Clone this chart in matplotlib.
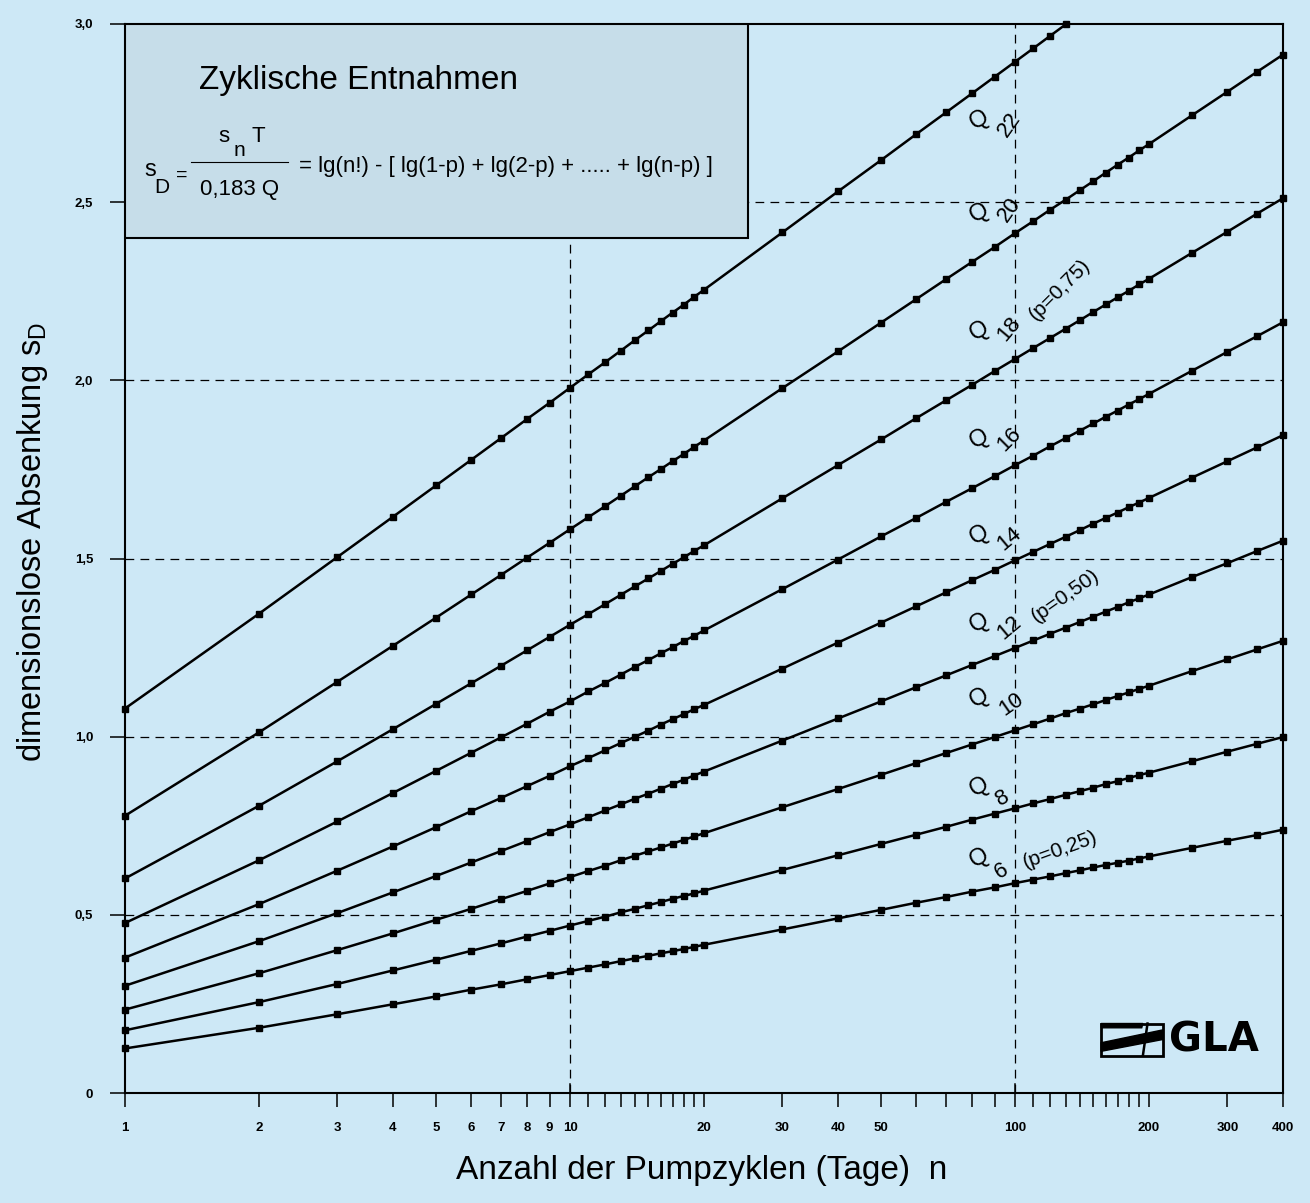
import matplotlib
matplotlib.use("Agg")
import matplotlib.pyplot as plt
from matplotlib.patches import Rectangle, Polygon
from matplotlib.ticker import FixedLocator, FixedFormatter, NullFormatter

plt.rcParams['font.family'] = ['Liberation Sans', 'DejaVu Sans']

# Pumpzyklen n (Tage) mit Messpunkten
n_days = list(range(1, 21)) + [30, 40, 50, 60, 70, 80, 90, 100,
                               110, 120, 130, 140, 150, 160, 170, 180, 190, 200,
                               250, 300, 350, 400]
n_days_q22 = n_days[:31]   # Q22 endet bei n=130 am oberen Rand

# dimensionslose Absenkung sD je Kurve
s_q6 = [0.125, 0.183, 0.221, 0.249, 0.271, 0.290, 0.305, 0.319, 0.331, 0.342,
        0.352, 0.361, 0.370, 0.378, 0.385, 0.392, 0.398, 0.404, 0.410, 0.416,
        0.459, 0.490, 0.514, 0.534, 0.550, 0.565, 0.577, 0.589,
        0.599, 0.608, 0.617, 0.625, 0.633, 0.640, 0.646, 0.652, 0.658, 0.664,
        0.688, 0.708, 0.724, 0.739]
s_q8 = [0.176, 0.255, 0.306, 0.344, 0.374, 0.399, 0.420, 0.439, 0.455, 0.470,
        0.483, 0.495, 0.507, 0.517, 0.527, 0.536, 0.545, 0.553, 0.560, 0.568,
        0.626, 0.667, 0.699, 0.725, 0.747, 0.767, 0.784, 0.799,
        0.813, 0.825, 0.837, 0.847, 0.857, 0.867, 0.875, 0.884, 0.892, 0.899,
        0.931, 0.958, 0.980, 0.999]
s_q10 = [0.234, 0.336, 0.401, 0.448, 0.486, 0.517, 0.544, 0.567, 0.588, 0.606,
         0.623, 0.638, 0.653, 0.666, 0.678, 0.689, 0.700, 0.710, 0.720, 0.729,
         0.802, 0.853, 0.893, 0.926, 0.954, 0.978, 0.999, 1.018,
         1.035, 1.051, 1.066, 1.079, 1.091, 1.103, 1.114, 1.124, 1.134, 1.143,
         1.184, 1.217, 1.245, 1.269]
s_q12 = [0.301, 0.426, 0.505, 0.563, 0.609, 0.647, 0.679, 0.707, 0.732, 0.754,
         0.774, 0.793, 0.810, 0.826, 0.840, 0.854, 0.867, 0.879, 0.891, 0.902,
         0.989, 1.051, 1.099, 1.139, 1.172, 1.201, 1.226, 1.249,
         1.270, 1.289, 1.306, 1.322, 1.337, 1.351, 1.364, 1.377, 1.388, 1.399,
         1.448, 1.487, 1.521, 1.550]
s_q14 = [0.380, 0.530, 0.624, 0.692, 0.746, 0.791, 0.828, 0.861, 0.890, 0.917,
         0.940, 0.962, 0.982, 1.000, 1.017, 1.034, 1.049, 1.063, 1.077, 1.089,
         1.191, 1.264, 1.320, 1.366, 1.405, 1.439, 1.468, 1.495,
         1.519, 1.541, 1.561, 1.580, 1.598, 1.614, 1.629, 1.644, 1.657, 1.670,
         1.727, 1.773, 1.812, 1.846]
s_q16 = [0.477, 0.653, 0.762, 0.842, 0.904, 0.955, 0.998, 1.036, 1.070, 1.099,
         1.127, 1.151, 1.174, 1.196, 1.215, 1.234, 1.251, 1.268, 1.283, 1.298,
         1.414, 1.497, 1.562, 1.614, 1.659, 1.697, 1.731, 1.762,
         1.789, 1.815, 1.838, 1.859, 1.879, 1.898, 1.915, 1.932, 1.947, 1.962,
         2.027, 2.080, 2.124, 2.163]
s_q18 = [0.602, 0.806, 0.931, 1.021, 1.092, 1.150, 1.199, 1.242, 1.280, 1.314,
         1.344, 1.372, 1.398, 1.422, 1.444, 1.465, 1.485, 1.503, 1.521, 1.537,
         1.669, 1.762, 1.834, 1.894, 1.944, 1.987, 2.026, 2.060,
         2.091, 2.119, 2.145, 2.169, 2.192, 2.213, 2.233, 2.251, 2.269, 2.285,
         2.358, 2.417, 2.468, 2.511]
s_q20 = [0.778, 1.012, 1.154, 1.255, 1.334, 1.399, 1.454, 1.502, 1.544, 1.582,
         1.616, 1.647, 1.676, 1.703, 1.728, 1.751, 1.773, 1.793, 1.813, 1.831,
         1.978, 2.081, 2.162, 2.228, 2.284, 2.332, 2.374, 2.413,
         2.447, 2.479, 2.507, 2.534, 2.559, 2.583, 2.605, 2.625, 2.645, 2.663,
         2.744, 2.810, 2.866, 2.914]
s_q22 = [1.079, 1.345, 1.504, 1.617, 1.705, 1.777, 1.838, 1.891, 1.937, 1.979,
         2.017, 2.051, 2.083, 2.113, 2.140, 2.166, 2.190, 2.212, 2.234, 2.254,
         2.415, 2.530, 2.618, 2.691, 2.752, 2.805, 2.852, 2.894,
         2.932, 2.967, 2.999]

curves = [(n_days, s_q6), (n_days, s_q8), (n_days, s_q10), (n_days, s_q12),
          (n_days, s_q14), (n_days, s_q16), (n_days, s_q18), (n_days, s_q20),
          (n_days_q22, s_q22)]

x_major = [1, 2, 3, 4, 5, 6, 7, 8, 9, 10, 20, 30, 40, 50, 100, 200, 300, 400]
x_minor = list(range(11, 20)) + [60, 70, 80, 90] + list(range(110, 200, 10))
y_ticks = [0, 0.5, 1.0, 1.5, 2.0, 2.5, 3.0]
y_labels = ['0', '0,5', '1,0', '1,5', '2,0', '2,5', '3,0']

# Beschriftung der Kurven: (Index, Position Q, Position Index, Drehung Index, p-Text, Position, Drehung)
curve_labels = [
    ('22', (83, 2.73), (97, 2.718), 55, None, None, 0),
    ('20', (83, 2.47), (97, 2.48), 55, None, None, 0),
    ('18', (83, 2.14), (97, 2.143), 50, '(p=0,75)', (126, 2.255), 45),
    ('16', (83, 1.835), (97, 1.835), 45, None, None, 0),
    ('14', (83, 1.565), (97, 1.555), 40, None, None, 0),
    ('12', (83, 1.32), (97, 1.305), 40, '(p=0,50)', (130, 1.395), 35),
    ('10', (83, 1.11), (98, 1.09), 35, None, None, 0),
    ('8', (83, 0.86), (94, 0.828), 30, None, None, 0),
    ('6', (83, 0.66), (93, 0.622), 30, '(p=0,25)', (126, 0.682), 20),
]

BG = '#cde8f6'
BOX = '#c6dde9'
W, H = 1310, 1203

fig = plt.figure(figsize=(W / 100, H / 100), dpi=100, facecolor=BG)
ax = fig.add_axes([125 / W, (H - 1093) / H, 1158 / W, 1069 / H])
ax.set_facecolor(BG)
ax.set_xscale('log')
ax.set_xlim(1, 400)
ax.set_ylim(0, 3)

for s in ax.spines.values():
    s.set_linewidth(1.5)

# Hilfslinien
for y in [0.5, 1.0, 1.5, 2.0, 2.5]:
    ax.axhline(y, color='black', lw=0.9, dashes=(7, 5), zorder=1)
for x in [10, 100]:
    ax.axvline(x, color='black', lw=0.9, dashes=(7, 5), zorder=1)

# Kurven
for nn, ss in curves:
    ax.plot(nn, ss, color='black', lw=1.8, marker='s', ms=4, mfc='black',
            mec='black', zorder=4, clip_on=False)

# Achsen
ax.xaxis.set_major_locator(FixedLocator(x_major))
ax.xaxis.set_major_formatter(FixedFormatter([str(v) for v in x_major]))
ax.xaxis.set_minor_locator(FixedLocator(x_minor))
ax.xaxis.set_minor_formatter(NullFormatter())
ax.tick_params(axis='x', which='both', direction='out', length=10, width=1.1,
               pad=11, labelsize=9.5)
ax.set_yticks(y_ticks)
ax.set_yticklabels(y_labels)
ax.tick_params(axis='y', direction='out', length=11, width=1.1, pad=12,
               labelsize=9.5)
for lab in ax.get_xticklabels() + ax.get_yticklabels():
    lab.set_fontweight('bold')
for x in [1, 10, 100]:
    ax.plot([x, x], [0, 0.008], transform=ax.get_xaxis_transform(),
            color='black', lw=1.1, clip_on=False, zorder=5)

fig.text(702 / W, 1 - 1170 / H, 'Anzahl der Pumpzyklen (Tage)  n',
         ha='center', va='center', fontsize=24)
fig.text(33 / W, 1 - 542 / H, r'dimensionslose Absenkung s$_\mathregular{D}$',
         ha='center', va='center', rotation=90, fontsize=23.5)

# Kasten mit Formel
ax.add_patch(Rectangle((0, 0.8), 0.538, 0.2, transform=ax.transAxes,
                       fc=BOX, ec='black', lw=1.5, zorder=3))
ax.text(0.064, 0.947, 'Zyklische Entnahmen', transform=ax.transAxes,
        fontsize=24, ha='left', va='center', zorder=6)
ax.text(0.022, 0.863, 's', transform=ax.transAxes, fontsize=17,
        ha='center', va='center', zorder=6)
ax.text(0.032, 0.847, 'D', transform=ax.transAxes, fontsize=15,
        ha='center', va='center', zorder=6)
ax.text(0.049, 0.858, '=', transform=ax.transAxes, fontsize=14,
        ha='center', va='center', zorder=6)
ax.plot([0.057, 0.141], [0.871, 0.871], transform=ax.transAxes,
        color='black', lw=0.8, zorder=6)
ax.text(0.085, 0.895, 's', transform=ax.transAxes, fontsize=16,
        ha='center', va='center', zorder=6)
ax.text(0.099, 0.882, 'n', transform=ax.transAxes, fontsize=15,
        ha='center', va='center', zorder=6)
ax.text(0.115, 0.895, 'T', transform=ax.transAxes, fontsize=16,
        ha='center', va='center', zorder=6)
ax.text(0.099, 0.845, '0,183 Q', transform=ax.transAxes, fontsize=16,
        ha='center', va='center', zorder=6)
ax.text(0.150, 0.867, '= lg(n!) - [ lg(1-p) + lg(2-p) + ..... + lg(n-p) ]',
        transform=ax.transAxes, fontsize=16, ha='left', va='center', zorder=6)

# Kurvenbeschriftung
for sub, qxy, sxy, srot, ptxt, pxy, prot in curve_labels:
    ax.text(qxy[0], qxy[1], 'Q', fontsize=17, rotation=30,
            ha='center', va='center', zorder=6)
    ax.text(sxy[0], sxy[1], sub, fontsize=16, rotation=srot,
            ha='center', va='center', zorder=6)
    if ptxt:
        ax.text(pxy[0], pxy[1], ptxt, fontsize=15, rotation=prot,
                ha='center', va='center', zorder=6)

# Logo
x0, x1, y0, y1 = 0.843, 0.896, 0.035, 0.065
ax.add_patch(Rectangle((x0, y0), x1 - x0, y1 - y0, transform=ax.transAxes,
                       fc='none', ec='black', lw=2.0, zorder=6))
ax.add_patch(Polygon([(x0, y0 + 0.004), (x0, y0 + 0.012), (x1, y0 + 0.024),
                      (x1, y0 + 0.015)], closed=True, transform=ax.transAxes,
                     fc='black', ec='black', zorder=6))
ax.add_patch(Polygon([(x0, y1 - 0.004), (x0 + 0.035, y1 - 0.004),
                      (x0 + 0.036, y1), (x0, y1)], closed=True,
                     transform=ax.transAxes, fc='black', ec='black', zorder=6))
ax.plot([x0 + 0.040, x0 + 0.036], [y1, y0], transform=ax.transAxes,
        color='black', lw=1.8, zorder=6)
ax.text(0.940, 0.049, 'GLA', transform=ax.transAxes, fontsize=29,
        fontweight='heavy', family='DejaVu Sans', ha='center', va='center',
        zorder=6)

fig.savefig('out.png', dpi=100, facecolor=BG)
